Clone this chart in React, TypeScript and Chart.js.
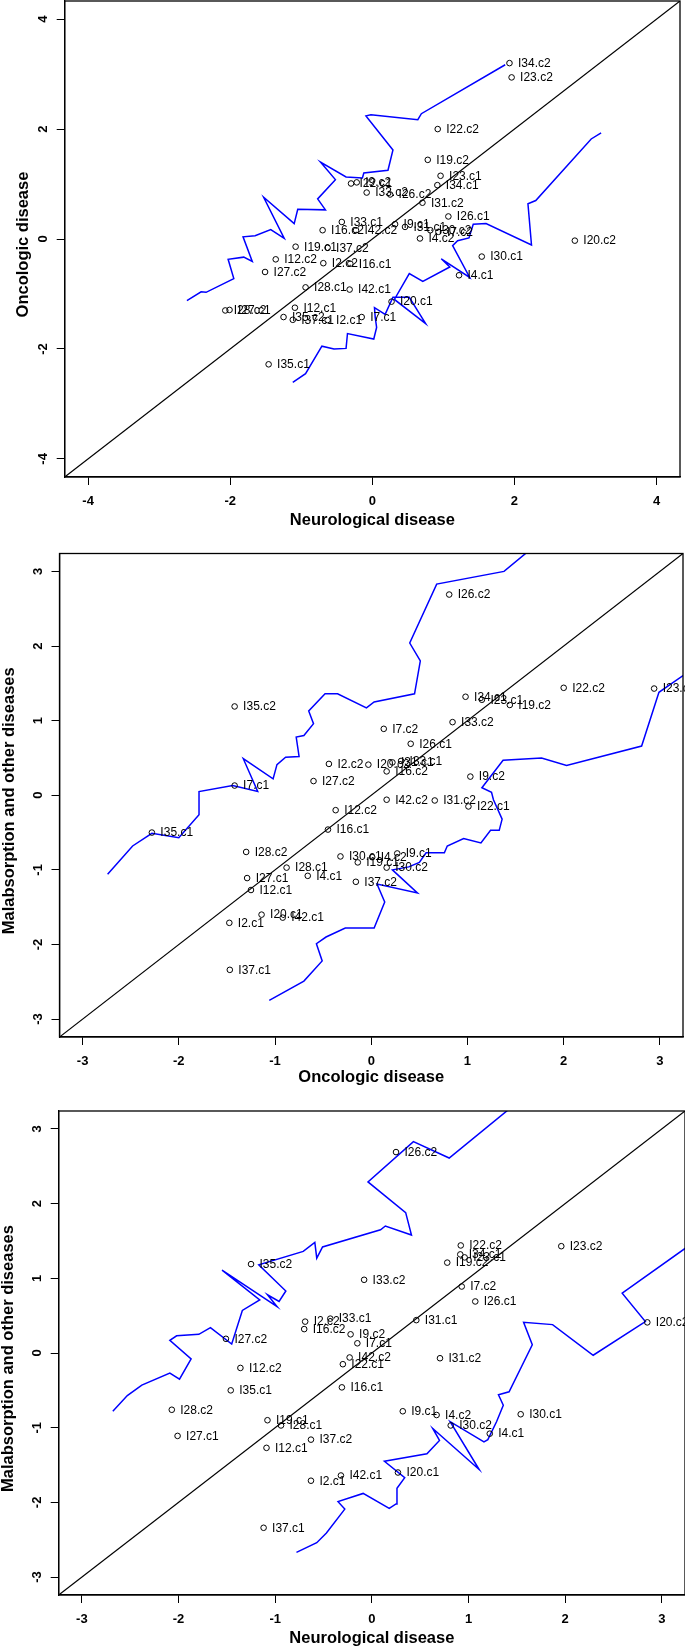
import React, { useEffect, useRef } from "react";
import { Chart, registerables } from "chart.js";

Chart.register(...registerables);

// ---- data ----
const ids = [
  "I2.c1", "I2.c2", "I4.c1", "I4.c2", "I7.c1", "I7.c2", "I9.c1", "I9.c2",
  "I12.c1", "I12.c2", "I16.c1", "I16.c2", "I19.c1", "I19.c2", "I20.c1", "I20.c2",
  "I22.c1", "I22.c2", "I23.c1", "I23.c2", "I26.c1", "I26.c2", "I27.c1", "I27.c2",
  "I28.c1", "I28.c2", "I30.c1", "I30.c2", "I31.c1", "I31.c2", "I33.c1", "I33.c2",
  "I34.c1", "I34.c2", "I35.c1", "I35.c2", "I37.c1", "I37.c2", "I42.c1", "I42.c2",
];

const neurological = [
  -0.63, -0.69, 1.22, 0.67, -0.15, 0.93, 0.32, -0.22,
  -1.09, -1.36, -0.31, -0.7, -1.08, 0.78, 0.27, 2.85,
  -0.3, 0.92, 0.96, 1.96, 1.07, 0.25, -2.01, -1.51,
  -0.94, -2.07, 1.54, 0.816, 0.46, 0.705, -0.43, -0.08,
  0.915, 1.93, -1.46, -1.25, -1.12, -0.63, -0.32, -0.23,
];

const oncologic = [
  -1.475, -0.44, -0.66, 0.01, -1.42, 0.13, 0.27, 1.03,
  -1.25, -0.37, -0.45, 0.16, -0.14, 1.44, -1.14, -0.03,
  1.01, 2.0, 1.15, 2.94, 0.41, 0.81, -1.29, -0.6,
  -0.88, -1.3, -0.32, 0.16, 0.22, 0.66, 0.31, 0.845,
  0.98, 3.2, -2.28, -1.42, -1.47, -0.16, -0.92, 0.16,
];

const malabsorption = [
  -1.71, 0.42, -1.08, -0.83, 0.13, 0.89, -0.78, 0.25,
  -1.27, -0.2, -0.46, 0.32, -0.9, 1.21, -1.6, 0.41,
  -0.15, 1.44, 1.28, 1.43, 0.69, 2.69, -1.11, 0.19,
  -0.97, -0.76, -0.82, -0.97, 0.44, -0.07, 0.46, 0.98,
  1.32, 3.45, -0.5, 1.19, -2.34, -1.16, -1.64, -0.06,
];

const ticksNeuroOnco = [-4, -2, 0, 2, 4];
const ticksMalab = [-3, -2, -1, 0, 1, 2, 3];

const diagX = [-10, 10];
const diagY = [-10, 10];

// envelope lines, panel 1 (neurological vs oncologic)
const p1UpperX = [-2.61, -2.41, -2.34, -1.95, -2.03, -1.81, -1.69, -1.82, -1.65, -1.43, -1.24, -1.53, -1.1, -1.05, -0.66, -0.77, -0.52, -0.73, -0.37, -0.14, -0.12, 0.22, 0.29, -0.09, -0.02, 0.64, 0.69, 1.87];
const p1UpperY = [-1.12, -0.96, -0.97, -0.72, -0.37, -0.33, -0.41, 0.04, 0.06, 0.17, 0.01, 0.76, 0.28, 0.54, 0.53, 0.73, 1.08, 1.4, 1.13, 1.11, 1.2, 1.25, 1.62, 2.24, 2.26, 2.17, 2.28, 3.17];
const p1LowerX = [-1.12, -0.94, -0.71, -0.54, -0.37, -0.35, 0.02, 0.06, 0.04, 0.03, 0.18, 0.29, 0.52, 0.75, 0.31, 0.52, 0.71, 1.09, 0.97, 1.37, 1.13, 1.2, 1.36, 1.42, 1.6, 2.24, 2.19, 2.3, 3.08, 3.22];
const p1LowerY = [-2.61, -2.45, -1.95, -2.0, -1.99, -1.72, -1.82, -1.61, -1.42, -1.25, -1.37, -1.06, -1.06, -1.54, -1.1, -0.63, -0.77, -0.51, -0.36, -0.7, -0.12, -0.03, 0.02, 0.27, 0.28, -0.11, 0.64, 0.7, 1.82, 1.93];

// envelope lines, panel 2 (oncologic vs malabsorption)
const p2UpperX = [-2.74, -2.48, -2.28, -2.0, -1.79, -1.79, -1.44, -1.18, -1.33, -1.02, -0.98, -0.89, -0.75, -0.78, -0.7, -0.6, -0.65, -0.48, -0.35, -0.05, 0.03, 0.45, 0.51, 0.4, 0.68, 1.38, 1.66];
const p2UpperY = [-1.06, -0.68, -0.51, -0.57, -0.26, 0.05, 0.13, 0.05, 0.49, 0.22, 0.41, 0.51, 0.52, 0.78, 0.8, 0.96, 1.13, 1.36, 1.36, 1.17, 1.25, 1.36, 1.8, 2.04, 2.83, 3.0, 3.3];
const p2LowerX = [-1.06, -0.7, -0.51, -0.57, -0.47, -0.27, 0.03, 0.14, 0.06, 0.48, 0.22, 0.39, 0.5, 0.57, 0.76, 0.79, 0.96, 1.14, 1.24, 1.33, 1.36, 1.27, 1.25, 1.15, 1.37, 1.77, 2.03, 2.81, 2.99, 3.35];
const p2LowerY = [-2.75, -2.49, -2.22, -1.99, -1.9, -1.78, -1.78, -1.43, -1.19, -1.31, -1.0, -0.96, -0.9, -0.77, -0.77, -0.68, -0.58, -0.64, -0.47, -0.47, -0.32, -0.06, 0.04, 0.1, 0.47, 0.5, 0.4, 0.66, 1.38, 1.7];

// envelope lines, panel 3 (neurological vs malabsorption)
const p3UpperX = [-2.68, -2.53, -2.38, -2.09, -1.99, -1.87, -2.09, -2.02, -1.79, -1.67, -1.45, -1.34, -1.16, -1.55, -0.98, -1.08, -0.96, -0.89, -1.17, -0.71, -0.59, -0.57, -0.51, 0.09, 0.14, 0.41, 0.35, -0.04, 0.43, 0.8, 1.5];
const p3UpperY = [-0.78, -0.57, -0.43, -0.27, -0.35, -0.08, 0.17, 0.23, 0.25, 0.34, 0.12, 0.57, 0.71, 1.11, 0.62, 0.78, 0.69, 0.83, 1.18, 1.36, 1.48, 1.27, 1.42, 1.65, 1.7, 1.58, 1.88, 2.29, 2.83, 2.61, 3.35];
const p3LowerX = [-0.78, -0.57, -0.47, -0.28, -0.35, -0.09, 0.18, 0.25, 0.26, 0.34, 0.13, 0.57, 0.7, 0.63, 1.11, 0.81, 1.16, 1.2, 1.29, 1.36, 1.31, 1.42, 1.66, 1.57, 1.87, 2.29, 2.83, 2.59, 3.35];
const p3LowerY = [-2.67, -2.54, -2.41, -2.09, -1.99, -1.88, -2.08, -2.02, -1.81, -1.67, -1.45, -1.35, -1.17, -1.01, -1.56, -0.92, -1.19, -1.16, -0.92, -0.7, -0.56, -0.52, 0.11, 0.41, 0.38, -0.03, 0.42, 0.8, 1.5];

// ---- layout ----
const FONT = "'Liberation Sans', Arial, Helvetica, sans-serif";
const WIDTH = 685;

type PanelCfg = {
  top: number; height: number; left: number; right: number;
  plotTop: number; plotBottom: number; lim: number;
  xs: number[]; ys: number[]; ticks: number[];
  xTitle: string; yTitle: string; xTitlePad: number; yTitleX: number;
  upperX: number[]; upperY: number[]; lowerX: number[]; lowerY: number[];
};

const panels: PanelCfg[] = [
  {
    top: 0, height: 540, left: 64.7, right: 680, plotTop: 1, plotBottom: 477, lim: 4.33,
    xs: neurological, ys: oncologic, ticks: ticksNeuroOnco,
    xTitle: "Neurological disease", yTitle: "Oncologic disease", xTitlePad: 11.75, yTitleX: 23.6,
    upperX: p1UpperX, upperY: p1UpperY, lowerX: p1LowerX, lowerY: p1LowerY,
  },
  {
    top: 540, height: 550, left: 59.5, right: 683, plotTop: 13.5, plotBottom: 497, lim: 3.24,
    xs: oncologic, ys: malabsorption, ticks: ticksMalab,
    xTitle: "Oncologic disease", yTitle: "Malabsorption and other diseases", xTitlePad: 4.25, yTitleX: 9.5,
    upperX: p2UpperX, upperY: p2UpperY, lowerX: p2LowerX, lowerY: p2LowerY,
  },
  {
    top: 1090, height: 557, left: 58.7, right: 685, plotTop: 21, plotBottom: 505, lim: 3.24,
    xs: neurological, ys: malabsorption, ticks: ticksMalab,
    xTitle: "Neurological disease", yTitle: "Malabsorption and other diseases", xTitlePad: 0.75, yTitleX: 8.9,
    upperX: p3UpperX, upperY: p3UpperY, lowerX: p3LowerX, lowerY: p3LowerY,
  },
];

const zip = (xs: number[], ys: number[]) => xs.map((x, i) => ({ x, y: ys[i] }));

function Panel({ cfg }: { cfg: PanelCfg }) {
  const ref = useRef<HTMLCanvasElement | null>(null);

  useEffect(() => {
    const canvas = ref.current;
    if (!canvas) return;

    const labelPlugin = {
      id: "rLabels",
      afterDraw(chart: any) {
        const { ctx, chartArea: a, scales } = chart;
        const sx = scales.x;
        const sy = scales.y;
        ctx.save();
        ctx.strokeStyle = "#000";
        ctx.lineWidth = 1.3;
        ctx.strokeRect(a.left, a.top, a.right - a.left, a.bottom - a.top);

        ctx.fillStyle = "#000";
        ctx.font = `bold 13px ${FONT}`;
        ctx.textAlign = "center";
        ctx.textBaseline = "middle";
        cfg.ticks.forEach((v) => {
          const py = sy.getPixelForValue(v);
          ctx.save();
          ctx.translate(a.left - 21, py);
          ctx.rotate(-Math.PI / 2);
          ctx.fillText(String(v), 0, 0);
          ctx.restore();
        });

        // y axis title (R places it slightly below the plot centre here)
        ctx.save();
        ctx.font = `bold 16.5px ${FONT}`;
        ctx.translate(cfg.yTitleX, (a.top + a.bottom) / 2 + 5.5);
        ctx.rotate(-Math.PI / 2);
        ctx.fillText(cfg.yTitle, 0, 0);
        ctx.restore();

        ctx.font = `12px ${FONT}`;
        ctx.textAlign = "left";
        ctx.textBaseline = "middle";
        ids.forEach((id, i) => {
          const xv = cfg.xs[i];
          const yv = cfg.ys[i];
          if (Math.abs(xv) > cfg.lim || Math.abs(yv) > cfg.lim) return;
          ctx.fillText(id, sx.getPixelForValue(xv) + 8.5, sy.getPixelForValue(yv) + 0.5);
        });
        ctx.restore();
      },
    };

    const chart = new Chart(canvas, {
      type: "scatter",
      data: {
        datasets: [
          {
            data: zip(cfg.xs, cfg.ys),
            pointRadius: 2.8,
            pointHoverRadius: 2.8,
            borderColor: "#000",
            backgroundColor: "rgba(0,0,0,0)",
            borderWidth: 1,
          },
          {
            data: zip(cfg.upperX, cfg.upperY),
            showLine: true,
            borderColor: "#0000ff",
            borderWidth: 1.5,
            pointRadius: 0,
            tension: 0,
          },
          {
            data: zip(cfg.lowerX, cfg.lowerY),
            showLine: true,
            borderColor: "#0000ff",
            borderWidth: 1.5,
            pointRadius: 0,
            tension: 0,
          },
          {
            data: zip(diagX, diagY),
            showLine: true,
            borderColor: "#000",
            borderWidth: 1.2,
            pointRadius: 0,
          },
        ],
      } as any,
      options: {
        responsive: false,
        animation: false,
        events: [],
        layout: {
          autoPadding: false,
          padding: { left: 0, right: WIDTH - cfg.right, top: cfg.plotTop, bottom: 0 },
        },
        plugins: { legend: { display: false }, tooltip: { enabled: false } },
        scales: {
          x: {
            type: "linear",
            position: "bottom",
            min: -cfg.lim,
            max: cfg.lim,
            afterBuildTicks: (s: any) => {
              s.ticks = cfg.ticks.map((v) => ({ value: v }));
            },
            afterFit: (s: any) => {
              s.height = cfg.height - cfg.plotBottom;
            },
            grid: { display: true, drawOnChartArea: false, drawTicks: true, tickLength: 8, color: "#000", lineWidth: 1 },
            border: { display: true, color: "#000", width: 1.3 },
            ticks: {
              color: "#000",
              font: { family: FONT, size: 13, weight: "bold" },
              padding: 9,
              maxRotation: 0,
              minRotation: 0,
              autoSkip: false,
              callback: (v: any) => String(v),
            },
            title: {
              display: true,
              text: cfg.xTitle,
              color: "#000",
              font: { family: FONT, size: 16.5, weight: "bold", lineHeight: 1 },
              padding: { top: 0, bottom: cfg.xTitlePad },
            },
          },
          y: {
            type: "linear",
            position: "left",
            min: -cfg.lim,
            max: cfg.lim,
            afterBuildTicks: (s: any) => {
              s.ticks = cfg.ticks.map((v) => ({ value: v }));
            },
            afterFit: (s: any) => {
              s.width = cfg.left;
            },
            grid: { display: true, drawOnChartArea: false, drawTicks: true, tickLength: 8, color: "#000", lineWidth: 1 },
            border: { display: true, color: "#000", width: 1.3 },
            ticks: { display: false },
            title: { display: false },
          },
        },
      } as any,
      plugins: [labelPlugin],
    });

    return () => chart.destroy();
  }, [cfg]);

  return (
    <canvas
      ref={ref}
      width={WIDTH}
      height={cfg.height}
      style={{ position: "absolute", left: 0, top: cfg.top, width: WIDTH, height: cfg.height, display: "block" }}
    />
  );
}

export default function App() {
  return (
    <div style={{ position: "absolute", left: 0, top: 0, width: WIDTH, height: 1647, background: "#fff", overflow: "hidden" }}>
      {panels.map((cfg, i) => (
        <Panel key={i} cfg={cfg} />
      ))}
    </div>
  );
}
